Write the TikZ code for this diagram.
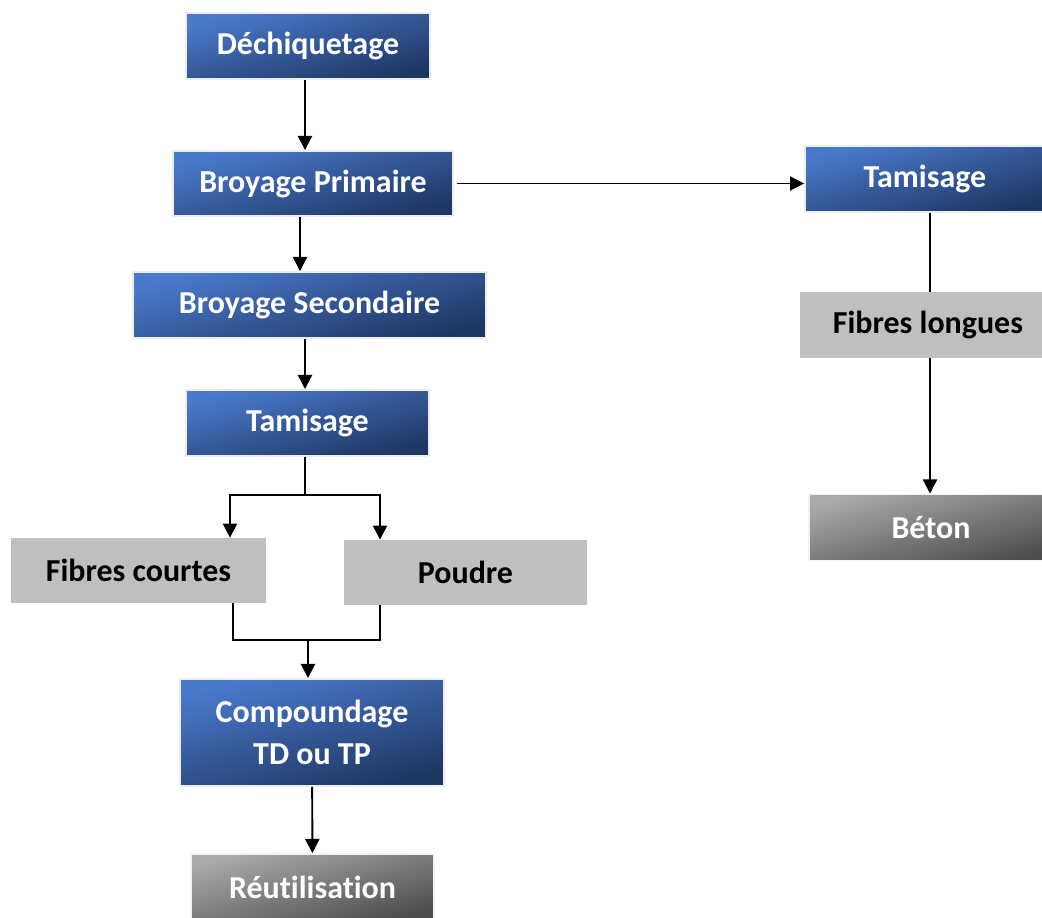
\documentclass[tikz,border=0pt]{standalone}
\usepackage{fontspec}
\setmainfont{Carlito}[Ligatures=NoCommon]
\usepackage{tikz}
\usetikzlibrary{arrows.meta,positioning,calc}

\definecolor{blueA}{RGB}{74,122,204}
\definecolor{blueB}{RGB}{30,54,98}
\definecolor{greyA}{RGB}{170,170,170}
\definecolor{greyB}{RGB}{78,78,78}
\definecolor{greyC}{RGB}{191,191,191}

\begin{document}
\begin{tikzpicture}[x=0.02cm,y=-0.02cm]
\tikzset{box/.style={
    minimum width=#1,
    minimum height=1.32cm,
    inner sep=0pt,
    align=center,
    font=\fontsize{18.2}{24}\selectfont\bfseries
  },
  box/.default=4.86cm,
  blue box/.style={box=#1,
    draw=black!7, line width=1.1pt,
    top color=blueA, bottom color=blueB, shading angle=15,
    text=white
  },
  blue box/.default=4.86cm,
  grey box/.style={box=#1, fill=greyC, text=black},
  grey box/.default=4.86cm,
  dark box/.style={box=#1,
    draw=black!5, line width=1.1pt,
    top color=greyA, bottom color=greyB, shading angle=15,
    text=white
  },
  dark box/.default=4.86cm,
  arrow/.style={-{Triangle[length=8pt,width=8pt]}, line width=1.1pt},
  link/.style={line width=1.1pt}
}
\useasboundingbox (0,0) rectangle (1042,918);

% left chain
\node[blue box=4.88cm] (dech) at (308,46) {Déchiquetage};
\node[blue box=5.6cm, minimum height=1.3cm] (bp) at (313,183.5) {Broyage Primaire};
\node[blue box=7.06cm] (bs) at (309.5,305) {Broyage Secondaire};
\node[blue box] (tamL) at (307.5,423) {Tamisage};
\node[grey box=5.1cm, minimum height=1.3cm] (fc) at (138.5,570.5) {Fibres courtes};
\node[grey box, minimum height=1.3cm] (pou) at (465.5,572.5) {Poudre};
\node[blue box=5.28cm, minimum height=2.14cm] (comp) at (312,732.5) {Compoundage\\ TD ou TP};
\node[dark box] (reut) at (312.5,887) {Réutilisation};

% right chain
\node[blue box=4.8cm] (tamR) at (925,179) {Tamisage};
\node[grey box=5.12cm] (fl) at (928,325) {Fibres longues};
\node[dark box=4.88cm] (beton) at (931,527.5) {Béton};

\coordinate (split) at (305,495);
\coordinate (merge) at (308,640);

\draw[arrow] ([xshift=-0.06cm]dech.south) -- ([xshift=-0.06cm]dech.south |- bp.north);
\draw[arrow] ([xshift=-0.26cm]bp.south) -- ([xshift=-0.26cm]bp.south |- bs.north);
\draw[arrow] ([xshift=-0.09cm]bs.south) -- ([xshift=-0.09cm]bs.south |- tamL.north);
\draw[link] (tamL.south -| split) -- (split);
\draw[arrow] (split) -| ([xshift=1.83cm]fc.north);
\draw[arrow] (split) -| ([xshift=-1.71cm]pou.north);
\draw[link] ([xshift=1.89cm]fc.south) |- (merge) -| ([xshift=-1.71cm]pou.south);
\draw[arrow] (merge) -- (merge |- comp.north);
\draw[arrow] (comp) -- (reut);

\draw[arrow] ([xshift=0.06cm]bp.east) -- (bp.east -| tamR.west);
\draw[link] ([xshift=0.1cm]tamR.south) -- ([xshift=0.1cm]tamR.south |- fl.north);
\draw[arrow] ([xshift=0.04cm]fl.south) -- ([xshift=0.04cm]fl.south |- beton.north);

\end{tikzpicture}
\end{document}
